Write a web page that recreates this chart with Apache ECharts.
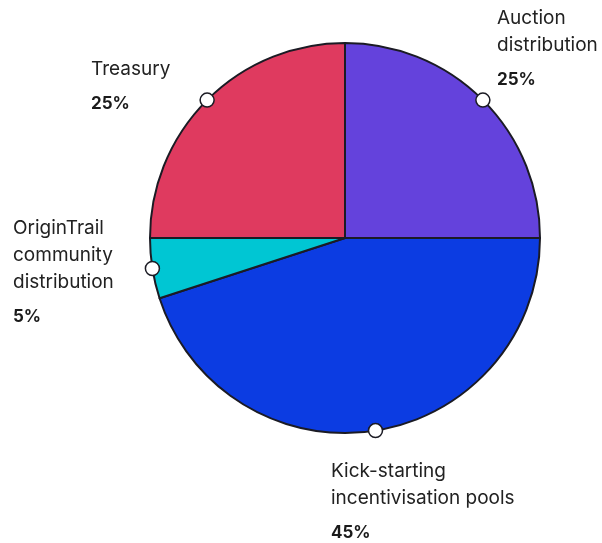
<!DOCTYPE html>
<html><head><meta charset="utf-8">
<script src="https://cdn.jsdelivr.net/npm/echarts@6/dist/echarts.min.js"></script>
<style>html,body{margin:0;padding:0;background:#fff}#c{width:602px;height:543px}</style>
</head><body><div id="c"></div>
<script>
const categories = ['Auction distribution','Kick-starting incentivisation pools','OriginTrail community distribution','Treasury'];
const labelNames = ['Auction\ndistribution','Kick-starting\nincentivisation pools','OriginTrail\ncommunity\ndistribution','Treasury'];
const values = [25, 45, 5, 25];
const colors = ['#6442DC','#0C3CE2','#00C6D3','#DF3A5F'];

// label anchor positions (layout only)
const labelPos = [[497, 4.5], [331, 457.5], [13, 214.5], [91, 55.5]];

const total = values.reduce((a,b)=>a+b,0);
let cum = 0;
const markerData = values.map(v => { const a = cum + v/2; cum += v; return [1, a]; });

const chart = echarts.init(document.getElementById('c'));
chart.setOption({
  animation: false,
  polar: { center: [345, 238], radius: 195 },
  angleAxis: { type: 'value', min: 0, max: total, startAngle: 90, clockwise: true, show: false },
  radiusAxis: { type: 'value', min: 0, max: 1, show: false },
  series: [
    {
      type: 'pie',
      center: [345, 238],
      radius: 195,
      startAngle: 90,
      clockwise: true,
      z: 1,
      itemStyle: { borderColor: '#1b1b24', borderWidth: 2 },
      emphasis: { disabled: true },
      label: {
        show: true,
        position: 'outside',
        overflow: 'none',
        width: 300,
        formatter: p => '{n|' + labelNames[p.dataIndex].split('\n').join('}\n{n|') + '}\n{p|' + p.value + '%}',
        rich: {
          n: { fontFamily: 'Inter', fontSize: 19, color: '#222', lineHeight: 27 },
          p: { fontFamily: 'Inter', fontSize: 17, fontWeight: 'bold', color: '#1a1a1a', lineHeight: 43 }
        }
      },
      labelLine: { show: false },
      labelLayout: params => ({ x: labelPos[params.dataIndex][0], y: labelPos[params.dataIndex][1], align: 'left', verticalAlign: 'top' }),
      data: categories.map((c,i) => ({ name: c, value: values[i], itemStyle: { color: colors[i] } }))
    },
    {
      type: 'scatter',
      coordinateSystem: 'polar',
      z: 5,
      symbol: 'circle',
      symbolSize: 14,
      itemStyle: { color: '#fff', borderColor: '#1b1b24', borderWidth: 1.5, opacity: 1 },
      emphasis: { disabled: true },
      data: markerData
    }
  ]
});
</script>
</body></html>
